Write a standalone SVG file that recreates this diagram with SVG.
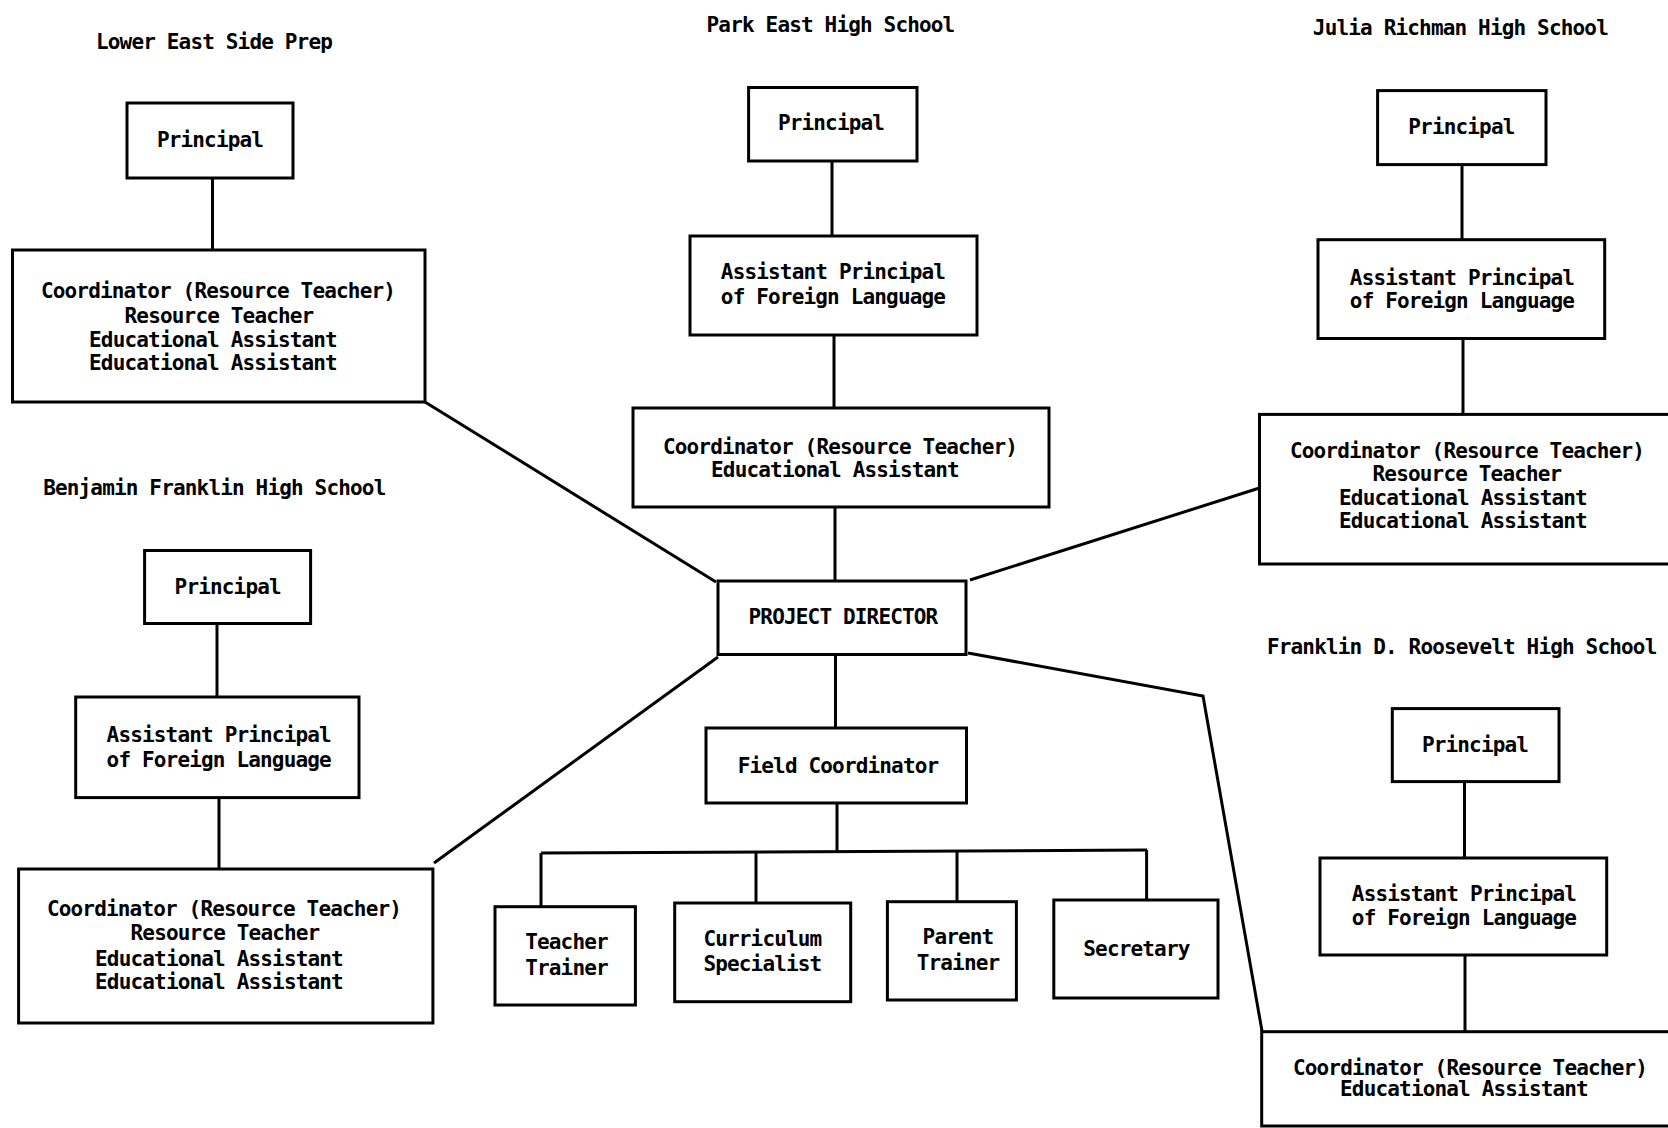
<svg xmlns="http://www.w3.org/2000/svg" width="1668" height="1128" viewBox="0 0 1668 1128">
<style>
  .bg{fill:#ffffff}
  .box{fill:none;stroke:#000;stroke-width:3}
  .ln{fill:none;stroke:#000;stroke-width:3;stroke-linejoin:miter}
  text{font-family:"DejaVu Sans Mono","Liberation Mono",monospace;font-weight:bold;font-size:21px;letter-spacing:-0.84px;text-anchor:middle;fill:#000}
</style>
<rect class="bg" x="0" y="0" width="1668" height="1128"/>

<g id="connectors">
  <line class="ln" x1="212.5" y1="178" x2="212.5" y2="250"/>
  <line class="ln" x1="832" y1="161" x2="832" y2="236"/>
  <line class="ln" x1="834" y1="335" x2="834" y2="408"/>
  <line class="ln" x1="835" y1="507" x2="835" y2="581"/>
  <line class="ln" x1="1462" y1="165" x2="1462" y2="240"/>
  <line class="ln" x1="1463" y1="338.5" x2="1463" y2="414"/>
  <line class="ln" x1="217" y1="623.5" x2="217" y2="697"/>
  <line class="ln" x1="219" y1="797.6" x2="219" y2="869"/>
  <line class="ln" x1="1464.5" y1="781.6" x2="1464.5" y2="858"/>
  <line class="ln" x1="1465" y1="955" x2="1465" y2="1032"/>
  <line class="ln" x1="425" y1="402" x2="716" y2="582"/>
  <line class="ln" x1="1259.5" y1="488" x2="970" y2="580"/>
  <line class="ln" x1="434" y1="863" x2="718" y2="657"/>
  <polyline class="ln" points="968,653 1203,696 1262,1031"/>
  <line class="ln" x1="835.5" y1="654.5" x2="835.5" y2="728"/>
  <line class="ln" x1="837" y1="803" x2="837" y2="852"/>
  <line class="ln" x1="541" y1="853" x2="1147" y2="850"/>
  <line class="ln" x1="541" y1="853" x2="541" y2="907"/>
  <line class="ln" x1="756" y1="852" x2="756" y2="903"/>
  <line class="ln" x1="957" y1="851" x2="957" y2="902"/>
  <line class="ln" x1="1146.6" y1="850" x2="1146.6" y2="900"/>
</g>

<g id="title-lesp"><text x="214" y="49">Lower East Side Prep</text></g>
<g id="title-pe"><text x="830.5" y="32">Park East High School</text></g>
<g id="title-jr"><text x="1460.4" y="35">Julia Richman High School</text></g>
<g id="title-bf"><text x="214.3" y="495">Benjamin Franklin High School</text></g>
<g id="title-fdr"><text x="1461.7" y="654">Franklin D. Roosevelt High School</text></g>

<g id="lesp-principal">
  <rect class="box" x="127" y="103" width="166" height="75"/>
  <text x="210" y="147">Principal</text>
</g>
<g id="lesp-coordinator">
  <rect class="box" x="12.5" y="250" width="412.5" height="152"/>
  <text x="218" y="298">Coordinator (Resource Teacher)</text>
  <text x="219" y="323">Resource Teacher</text>
  <text x="213" y="347">Educational Assistant</text>
  <text x="213" y="370">Educational Assistant</text>
</g>

<g id="pe-principal">
  <rect class="box" x="748.6" y="87.5" width="168.4" height="73.5"/>
  <text x="831" y="130">Principal</text>
</g>
<g id="pe-ap">
  <rect class="box" x="690" y="236" width="287" height="99"/>
  <text x="833" y="279">Assistant Principal</text>
  <text x="833" y="304">of Foreign Language</text>
</g>
<g id="pe-coordinator">
  <rect class="box" x="633" y="408" width="416" height="99"/>
  <text x="840" y="453.6">Coordinator (Resource Teacher)</text>
  <text x="835" y="477">Educational Assistant</text>
</g>

<g id="jr-principal">
  <rect class="box" x="1377.6" y="90.6" width="168.4" height="74"/>
  <text x="1461.4" y="134">Principal</text>
</g>
<g id="jr-ap">
  <rect class="box" x="1318" y="239.7" width="286.7" height="98.8"/>
  <text x="1462" y="285">Assistant Principal</text>
  <text x="1462" y="308">of Foreign Language</text>
</g>
<g id="jr-coordinator">
  <rect class="box" x="1259.5" y="414.4" width="520" height="149.6"/>
  <text x="1467" y="458">Coordinator (Resource Teacher)</text>
  <text x="1467" y="481">Resource Teacher</text>
  <text x="1463" y="505">Educational Assistant</text>
  <text x="1463" y="528">Educational Assistant</text>
</g>

<g id="bf-principal">
  <rect class="box" x="144.6" y="550.5" width="166" height="73"/>
  <text x="227.7" y="594">Principal</text>
</g>
<g id="bf-ap">
  <rect class="box" x="75.7" y="697" width="283.3" height="100.6"/>
  <text x="218.75" y="742">Assistant Principal</text>
  <text x="218.75" y="767">of Foreign Language</text>
</g>
<g id="bf-coordinator">
  <rect class="box" x="18.6" y="869" width="414.3" height="154"/>
  <text x="224" y="916">Coordinator (Resource Teacher)</text>
  <text x="225" y="940">Resource Teacher</text>
  <text x="219" y="966">Educational Assistant</text>
  <text x="219" y="989">Educational Assistant</text>
</g>

<g id="fdr-principal">
  <rect class="box" x="1392.3" y="708.6" width="166.7" height="73"/>
  <text x="1475" y="752">Principal</text>
</g>
<g id="fdr-ap">
  <rect class="box" x="1320" y="858" width="286.7" height="97"/>
  <text x="1464" y="900.6">Assistant Principal</text>
  <text x="1464" y="925">of Foreign Language</text>
</g>
<g id="fdr-coordinator">
  <rect class="box" x="1261.7" y="1031.7" width="520" height="94.3"/>
  <text x="1470" y="1074.5">Coordinator (Resource Teacher)</text>
  <text x="1464" y="1096">Educational Assistant</text>
</g>

<g id="project-director">
  <rect class="box" x="718" y="581" width="248" height="73.5"/>
  <text x="843" y="624">PROJECT DIRECTOR</text>
</g>
<g id="field-coordinator">
  <rect class="box" x="706" y="728" width="260.5" height="75"/>
  <text x="838" y="773">Field Coordinator</text>
</g>
<g id="teacher-trainer">
  <rect class="box" x="495" y="906.7" width="140.4" height="98.3"/>
  <text x="566.5" y="949">Teacher</text>
  <text x="566.5" y="975">Trainer</text>
</g>
<g id="curriculum-specialist">
  <rect class="box" x="674.7" y="903" width="176" height="98.7"/>
  <text x="762.4" y="946">Curriculum</text>
  <text x="762.4" y="971">Specialist</text>
</g>
<g id="parent-trainer">
  <rect class="box" x="887.4" y="901.7" width="129" height="98.3"/>
  <text x="958" y="944">Parent</text>
  <text x="958" y="970">Trainer</text>
</g>
<g id="secretary">
  <rect class="box" x="1053.8" y="900" width="164.2" height="98"/>
  <text x="1136.4" y="956">Secretary</text>
</g>
</svg>
